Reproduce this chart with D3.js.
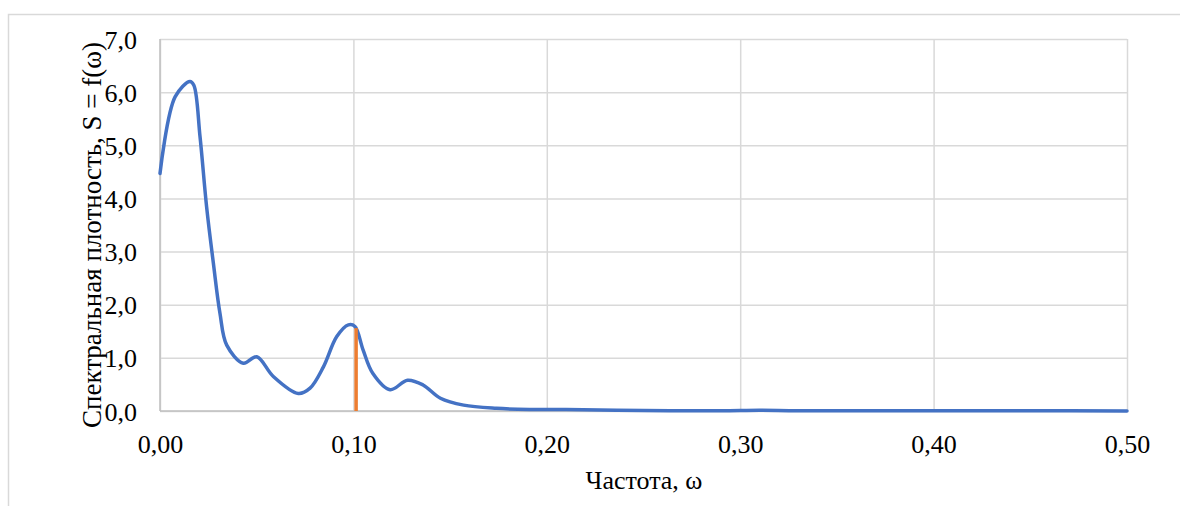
<!DOCTYPE html>
<html>
<head>
<meta charset="utf-8">
<script src="https://cdn.jsdelivr.net/npm/d3@7"></script>
<style>
  body { margin: 0; background: #fff; }
</style>
</head>
<body>
<div id="chart"></div>
<script>
// frequency (x) and spectral density (y)
let freq = [0, 0.0078, 0.0155, 0.0175, 0.0207, 0.0241, 0.0276, 0.031, 0.0345, 0.0431, 0.050, 0.0586,
  0.0715, 0.0776, 0.0845, 0.0914, 0.0974, 0.1008, 0.105, 0.110, 0.119, 0.128, 0.136, 0.145, 0.157,
  0.174, 0.191, 0.21, 0.25, 0.29, 0.31, 0.33, 0.40, 0.45, 0.50];
let density = [4.47, 5.91, 6.20, 6.13, 5.16, 3.84, 2.78, 1.84, 1.24, 0.90, 1.02, 0.65,
  0.33, 0.43, 0.83, 1.40, 1.62, 1.59, 1.15, 0.71, 0.40, 0.58, 0.49, 0.24, 0.11,
  0.05, 0.03, 0.03, 0.01, 0.005, 0.015, 0.005, 0.005, 0.003, 0.002];
// the orange marker line
let markFreq = [0.1014, 0.1014];
let markValue = [0, 1.56];

let xTicks = [0, 0.1, 0.2, 0.3, 0.4, 0.5];
let yTicks = [0, 1, 2, 3, 4, 5, 6, 7];
let xTitle = 'Частота, ω';
let yTitle = 'Спектральная плотность, S = f(ω)';

let width = 1180, height = 506;
let plot = { left: 160, right: 1127, top: 39, bottom: 411 };
let serif = "'Liberation Serif', 'Times New Roman', serif";

let svg = d3.select('#chart').append('svg')
  .attr('width', width)
  .attr('height', height);

// outer chart frame (cut off on right and bottom)
svg.append('rect')
  .attr('x', 8.5).attr('y', 14.5)
  .attr('width', 1200).attr('height', 600)
  .attr('fill', 'none')
  .attr('stroke', '#d9d9d9')
  .attr('stroke-width', 1.5);

let x = d3.scaleLinear().domain([0, 0.5]).range([plot.left, plot.right]);
let y = d3.scaleLinear().domain([0, 7]).range([plot.bottom, plot.top]);

let fmt = function (d, n) { return d.toFixed(n).replace('.', ','); };

// gridlines
svg.append('g')
  .attr('transform', 'translate(0,' + plot.bottom + ')')
  .call(d3.axisBottom(x).tickValues(xTicks).tickSize(-(plot.bottom - plot.top)).tickFormat(''))
  .call(g => g.select('.domain').remove())
  .call(g => g.selectAll('line').attr('stroke', '#d9d9d9').attr('stroke-width', 1.5));

svg.append('g')
  .attr('transform', 'translate(' + plot.left + ',0)')
  .call(d3.axisLeft(y).tickValues(yTicks).tickSize(-(plot.right - plot.left)).tickFormat(''))
  .call(g => g.select('.domain').remove())
  .call(g => g.selectAll('line').attr('stroke', '#d9d9d9').attr('stroke-width', 1.5));

// axis lines
svg.append('line')
  .attr('x1', plot.left).attr('x2', plot.right)
  .attr('y1', plot.bottom).attr('y2', plot.bottom)
  .attr('stroke', '#bfbfbf').attr('stroke-width', 1.5);
svg.append('line')
  .attr('x1', plot.left).attr('x2', plot.left)
  .attr('y1', plot.top).attr('y2', plot.bottom)
  .attr('stroke', '#bfbfbf').attr('stroke-width', 1.5);

// tick labels
svg.append('g')
  .attr('transform', 'translate(0,' + plot.bottom + ')')
  .call(d3.axisBottom(x).tickValues(xTicks).tickSize(0).tickPadding(0).tickFormat(d => fmt(d, 2)))
  .call(g => g.select('.domain').remove())
  .call(g => g.selectAll('text')
    .attr('dy', null)
    .attr('y', 42)
    .attr('fill', '#000')
    .style('font-size', '26px')
    .style('font-family', serif));

svg.append('g')
  .attr('transform', 'translate(' + 137 + ',0)')
  .call(d3.axisLeft(y).tickValues(yTicks).tickSize(0).tickPadding(0).tickFormat(d => fmt(d, 1)))
  .call(g => g.select('.domain').remove())
  .call(g => g.selectAll('text')
    .attr('dy', '0.35em')
    .attr('x', 0)
    .attr('fill', '#000')
    .style('font-size', '26px')
    .style('font-family', serif));

// axis titles
svg.append('text')
  .attr('x', 644).attr('y', 489)
  .attr('text-anchor', 'middle')
  .attr('fill', '#000')
  .style('font-family', serif)
  .style('font-size', '26px')
  .text(xTitle);

svg.append('text')
  .attr('transform', 'translate(101,235) rotate(-90)')
  .attr('text-anchor', 'middle')
  .attr('fill', '#000')
  .style('font-family', serif)
  .style('font-size', '27px')
  .text(yTitle);

// spectral density curve
let points = freq.map((f, i) => [f, density[i]]);
let line = d3.line()
  .x(d => x(d[0]))
  .y(d => y(d[1]))
  .curve(d3.curveCatmullRom.alpha(0.5));

svg.append('path')
  .datum(points)
  .attr('d', line)
  .attr('fill', 'none')
  .attr('stroke', '#4472c4')
  .attr('stroke-width', 3.5)
  .attr('stroke-linejoin', 'round')
  .attr('stroke-linecap', 'round');

// orange marker
svg.append('path')
  .datum(markFreq.map((f, i) => [f, markValue[i]]))
  .attr('d', d3.line().x(d => x(d[0])).y(d => y(d[1])))
  .attr('fill', 'none')
  .attr('stroke', '#ed7d31')
  .attr('stroke-width', 3.5);
</script>
</body>
</html>
